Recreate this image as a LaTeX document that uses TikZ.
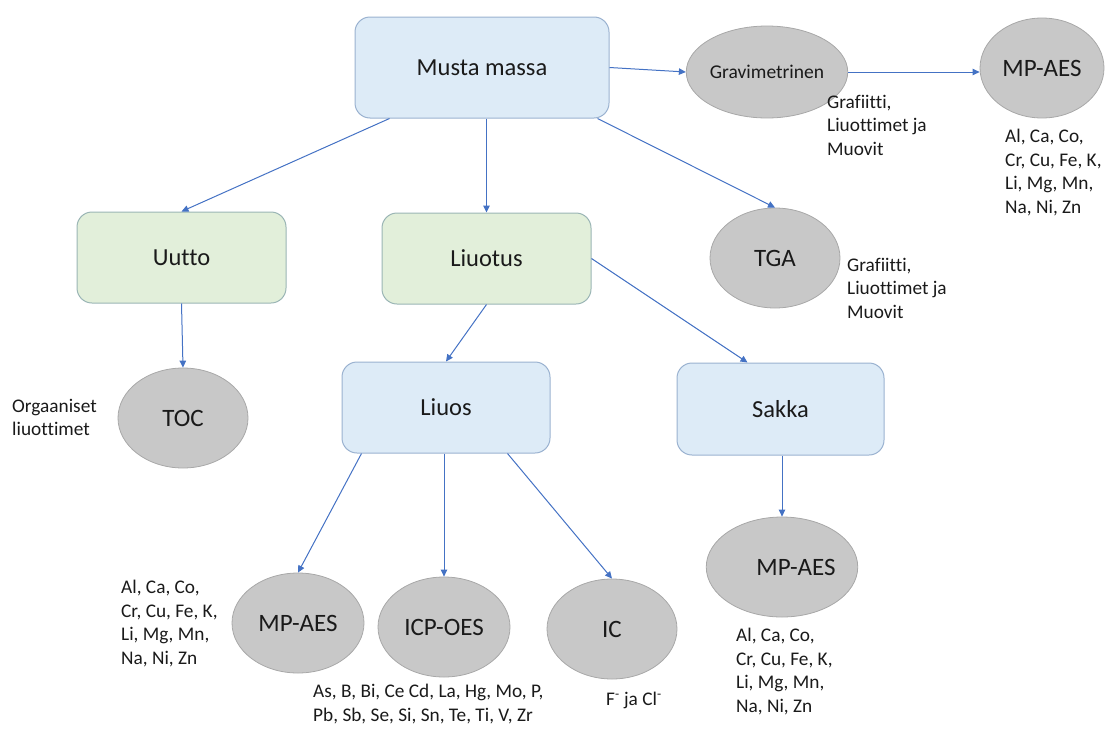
\documentclass[tikz,border=0pt]{standalone}
\usepackage{fontspec}
\setmainfont{Carlito}[Ligatures=NoCommon]
\usetikzlibrary{arrows.meta,shapes.geometric}
\definecolor{boxblue}{HTML}{DDEBF7}
\definecolor{boxblueline}{HTML}{9AB2D0}
\definecolor{boxgreen}{HTML}{E2EFDA}
\definecolor{boxgreenline}{HTML}{9AB5B5}
\definecolor{ellfill}{HTML}{C8C8C8}
\definecolor{ellline}{HTML}{A8A8A8}
\definecolor{arrowblue}{HTML}{4472C4}
\definecolor{txt}{HTML}{1A1A1A}
\tikzset{
  bbox/.style={rectangle, rounded corners=15pt, fill=boxblue, draw=boxblueline, line width=1pt,
    font=\fontsize{24.5}{29}\selectfont, text=txt, inner sep=0pt},
  gbox/.style={bbox, fill=boxgreen, draw=boxgreenline},
  ell/.style={ellipse, fill=ellfill, draw=ellline, line width=0.8pt, inner sep=0pt,
    minimum width=130pt, minimum height=100pt, font=\fontsize{25}{30}\selectfont, text=txt},
  lbl/.style={anchor=north west, align=left, inner sep=0pt, text=txt,
    font=\fontsize{19.3}{23.5}\selectfont},
  conn/.style={draw=arrowblue, line width=1pt, -{Triangle[length=7pt,width=6.5pt]}},
}
\begin{document}
\begin{tikzpicture}[x=1pt,y=-1pt]
\useasboundingbox (0,0) rectangle (1105,731);

% boxes
\node[bbox, minimum width=254pt, minimum height=101pt] (musta) at (482,67.5) {Musta massa};
\node[gbox, minimum width=209pt, minimum height=91pt] (uutto) at (181.5,257.5) {Uutto};
\node[gbox, minimum width=209pt, minimum height=91pt] (liuotus) at (486.5,258.5) {Liuotus};
\node[bbox, minimum width=208pt, minimum height=91pt] (liuos) at (446,407.5) {Liuos};
\node[bbox, minimum width=207pt, minimum height=92pt] (sakka) at (780.5,409) {Sakka};

% ellipses
\node[ell, minimum width=130pt, minimum height=92pt, font=\fontsize{19.5}{23}\selectfont] (grav) at (767,72) {Gravimetrinen};
\node[ell, minimum width=124pt, minimum height=100pt] (mp1) at (1042,68) {MP-AES};
\node[ell, minimum width=130pt, minimum height=100pt] (tga) at (775,258) {TGA};
\node[ell] (toc) at (183,418) {TOC};
\node[ell, minimum width=132pt] (mp2) at (298,623) {MP-AES};
\node[ell, minimum width=132pt] (icp) at (444,627) {ICP-OES};
\node[ell] (ic) at (612,629) {IC};
\node[ell, minimum width=132pt] (mp3) at (782,567) {\hspace*{28pt}MP-AES};

% connectors
\draw[conn] (musta.east) -- (grav.west);
\draw[conn] (grav.east) -- (mp1.west |- grav.east);
\draw[conn] ([xshift=35pt]musta.south west) -- (uutto.north);
\draw[conn] (musta.south -| liuotus.north) -- (liuotus.north);
\draw[conn] ([xshift=-12pt]musta.south east) -- (tga.north);
\draw[conn] (uutto.south) -- (toc.north);
\draw[conn] (liuotus.south) -- (liuos.north);
\draw[conn] (liuotus.east) -- ([xshift=71pt]sakka.north west);
\draw[conn] ([xshift=20pt]liuos.south west) -- (mp2.north);
\draw[conn] (liuos.south -| icp.north) -- (icp.north);
\draw[conn] ([xshift=-43pt]liuos.south east) -- (ic.north);
\draw[conn] (sakka.south -| mp3.north) -- (mp3.north);

% labels
\node[lbl] (lgrav) at (827,95) {Grafiitti,\\Liuottimet ja\\Muovit};
\node[lbl] (lmp1) at (1005,129) {Al, Ca, Co,\\Cr, Cu, Fe, K,\\Li, Mg, Mn,\\Na, Ni, Zn};
\node[lbl] (ltga) at (847,258) {Grafiitti,\\Liuottimet ja\\Muovit};
\node[lbl] (ltoc) at (12,399) {Orgaaniset\\liuottimet};
\node[lbl] (lmp2) at (121,580) {Al, Ca, Co,\\Cr, Cu, Fe, K,\\Li, Mg, Mn,\\Na, Ni, Zn};
\node[lbl] (licp) at (313,684) {As, B, Bi, Ce Cd, La, Hg, Mo, P,\\Pb, Sb, Se, Si, Sn, Te, Ti, V, Zr};
\node[lbl] (lic) at (606,692) {F\textsuperscript{-} ja Cl\textsuperscript{-}};
\node[lbl] (lmp3) at (736,628) {Al, Ca, Co,\\Cr, Cu, Fe, K,\\Li, Mg, Mn,\\Na, Ni, Zn};
\end{tikzpicture}
\end{document}
